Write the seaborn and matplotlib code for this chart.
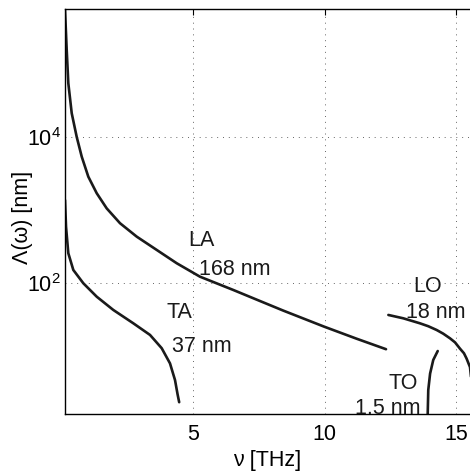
import numpy as np
import pandas as pd
import matplotlib
matplotlib.use("Agg")
import matplotlib.pyplot as plt
import seaborn as sns

# Phonon mean free path vs frequency, per branch (x in THz, y in nm)
la_nu = [0.110, 0.175, 0.236, 0.366, 0.556, 0.747, 0.998, 1.318, 1.699, 2.206,
         2.842, 3.604, 4.366, 5.253, 6.522, 7.54, 8.427, 9.977, 11.22, 12.34]
la_mfp = [5.55e5, 1.57e5, 5.50e4, 2.13e4, 1.01e4, 5.42e3, 2.88e3, 1.71e3, 1.06e3, 664,
          435, 286, 188, 123, 80.9, 57.1, 42.2, 25.5, 17.4, 12.5]

ta_nu = [0.110, 0.149, 0.236, 0.427, 0.808, 1.318, 1.950, 2.712, 3.349, 3.794,
         4.110, 4.301, 4.40, 4.46]
ta_mfp = [1380, 596, 258, 152, 100, 65.5, 43.1, 28.3, 19.6, 12.9,
          8.0, 4.73, 3.0, 2.35]

lo_nu = [12.43, 13.0, 13.63, 13.95, 14.27, 14.52, 14.78, 14.97, 15.16, 15.31, 15.41, 15.54, 15.7]
lo_mfp = [36.8, 33.1, 28.3, 25.8, 22.9, 20.4, 17.6, 15.5, 12.7, 11.0, 9.3, 7.1, 2.0]

to_nu = [13.92, 13.95, 14.02, 14.14, 14.31]
to_mfp = [1.2, 3.45, 5.8, 8.9, 11.8]

branch_labels = ["LA", "TA", "LO", "TO"]
mfp_labels = ["168 nm", "37 nm", "18 nm", "1.5 nm"]

xticks = [5, 10, 15]
yticks = [1e2, 1e4]
ytick_labels = [r"$\mathregular{10^{2}}$", r"$\mathregular{10^{4}}$"]

sns.set_theme(style="white")
plt.rcParams["font.family"] = ["Liberation Sans", "DejaVu Sans"]
plt.rcParams["mathtext.fontset"] = "custom"
plt.rcParams["mathtext.rm"] = "Liberation Sans"
plt.rcParams["mathtext.it"] = "Liberation Sans:italic"

fig = plt.figure(figsize=(4.70, 4.72), dpi=100)
ax = fig.add_axes([65 / 470, 58 / 472, 1 - 65 / 470, 405 / 472])

frames = []
for name, nu, mfp in [("LA", la_nu, la_mfp), ("TA", ta_nu, ta_mfp),
                      ("LO", lo_nu, lo_mfp), ("TO", to_nu, to_mfp)]:
    frames.append(pd.DataFrame({"nu": nu, "mfp": mfp, "branch": name}))
df = pd.concat(frames, ignore_index=True)

for name in branch_labels:
    sub = df[df["branch"] == name]
    sns.lineplot(data=sub, x="nu", y="mfp", ax=ax, color="#1a1a1a",
                 linewidth=1.9, sort=False, estimator=None, legend=False)
for line in ax.lines:
    line.set_solid_joinstyle("round")

ax.set_yscale("log")
ax.set_xlim(0.11, 15.54)
ax.set_ylim(1.62, 5.7e5)

ax.set_xticks(xticks)
ax.set_xticklabels([str(t) for t in xticks])
ax.set_yticks(yticks)
ax.set_yticklabels(ytick_labels)
ax.yaxis.set_minor_locator(matplotlib.ticker.NullLocator())

ax.grid(True, which="major", color="#666666", linestyle=(0, (1, 5)), linewidth=0.7)

for side in ["left", "bottom", "top"]:
    ax.spines[side].set_visible(True)
    ax.spines[side].set_color("black")
    ax.spines[side].set_linewidth(1.0)
ax.spines["right"].set_visible(False)

ax.tick_params(axis="both", which="major", direction="in", length=4,
               width=0.8, color="black", labelsize=15.5, labelcolor="black",
               top=True, right=False)
ax.tick_params(axis="x", pad=7)
ax.tick_params(axis="y", pad=3)

ax.set_xlabel("ν [THz]", fontsize=15.5, color="black")
ax.set_ylabel("Λ(ω) [nm]", fontsize=15.5, color="black")
ax.xaxis.set_label_coords(0.5, -0.088)
ax.yaxis.set_label_coords(-0.078, 0.486)

# Branch annotations (left x, baseline log10 y)
label_pos = {"LA": (4.80, 2.51), "TA": (3.98, 1.525), "LO": (13.38, 1.885), "TO": (12.43, 0.548)}
value_pos = {"168 nm": (5.22, 2.114), "37 nm": (4.175, 1.063), "18 nm": (13.1, 1.52), "1.5 nm": (11.16, 0.21)}
for txt in branch_labels:
    x, ly = label_pos[txt]
    ax.text(x, 10 ** ly, txt, fontsize=15.5, ha="left", va="baseline", color="#1a1a1a")
for txt in mfp_labels:
    x, ly = value_pos[txt]
    ax.text(x, 10 ** ly, txt, fontsize=15.5, ha="left", va="baseline", color="#1a1a1a")

fig.savefig("out.png", dpi=100)
